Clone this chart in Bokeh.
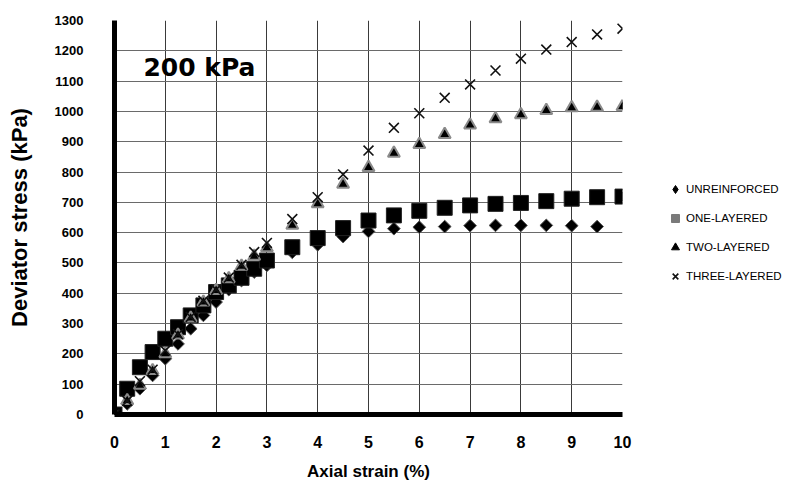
import math

from bokeh.embed import file_html
from bokeh.models import FixedTicker, Label, Legend, LegendItem, Range1d
from bokeh.plotting import figure
from bokeh.resources import INLINE

# Axial strain (%) at which each specimen was read
strain_unreinforced = [0, 0.25, 0.5, 0.75, 1.0, 1.25, 1.5, 1.75, 2.0, 2.25, 2.5, 2.75, 3.0,
                       3.5, 4.0, 4.5, 5.0, 5.5, 6.0, 6.5, 7.0, 7.5, 8.0, 8.5, 9.0, 9.5]
strain_reinforced = [0, 0.25, 0.5, 0.75, 1.0, 1.25, 1.5, 1.75, 2.0, 2.25, 2.5, 2.75, 3.0,
                     3.5, 4.0, 4.5, 5.0, 5.5, 6.0, 6.5, 7.0, 7.5, 8.0, 8.5, 9.0, 9.5, 10.0]

# Deviator stress (kPa), confining pressure 200 kPa
stress_unreinforced = [0, 35, 85, 129, 184, 233, 283, 327, 371, 412, 442, 470, 492,
                       535, 560, 587, 604, 613, 618, 620, 623, 624, 624, 624, 623, 620]
stress_one_layer = [0, 85, 156, 206, 250, 288, 327, 360, 404, 426, 451, 481, 508,
                    552, 582, 615, 640, 657, 672, 682, 690, 695, 698, 704, 712, 717, 719]
stress_two_layer = [0, 46, 96, 145, 200, 262, 318, 371, 409, 448, 489, 522, 550,
                    624, 695, 760, 815, 862, 891, 924, 955, 976, 989, 1003, 1012, 1014, 1016]
stress_three_layer = [0, 45, 110, 148, 211, 265, 322, 375, 412, 452, 494, 536, 566,
                      645, 717, 792, 871, 946, 994, 1045, 1089, 1135, 1174, 1204, 1229, 1254, 1273]

series_names = ["UNREINFORCED", "ONE-LAYERED", "TWO-LAYERED", "THREE-LAYERED"]
x_ticks = [0, 1, 2, 3, 4, 5, 6, 7, 8, 9, 10]
y_ticks = [0, 100, 200, 300, 400, 500, 600, 700, 800, 900, 1000, 1100, 1200, 1300]

p = figure(
    frame_width=508, frame_height=394,
    x_range=Range1d(0, 10), y_range=Range1d(0, 1300),
    output_backend="svg", toolbar_location=None,
    min_border_left=114, min_border_right=166,
    min_border_top=20, min_border_bottom=71,
    background_fill_color="white", border_fill_color="white",
)
p.outline_line_color = None

# grid
p.xgrid.ticker = FixedTicker(ticks=x_ticks)
p.ygrid.ticker = FixedTicker(ticks=y_ticks)
p.xgrid.grid_line_color = "#3a3a3a"
p.ygrid.grid_line_color = "#6a6a6a"
p.xgrid.grid_line_width = 1
p.ygrid.grid_line_width = 1

# axes
for ax in (p.xaxis[0], p.yaxis[0]):
    ax.axis_line_width = 5
    ax.axis_line_color = "black"
    ax.major_tick_line_color = None
    ax.minor_tick_line_color = None
    ax.major_label_text_font = "Liberation Sans"
    ax.major_label_text_font_style = "bold"
    ax.major_label_text_color = "black"
    ax.axis_label_text_font = "Liberation Sans"
    ax.axis_label_text_font_style = "bold"
    ax.axis_label_text_color = "black"

p.xaxis.ticker = FixedTicker(ticks=x_ticks)
p.yaxis.ticker = FixedTicker(ticks=y_ticks)
p.xaxis.major_label_text_font_size = "16px"
p.yaxis.major_label_text_font_size = "13px"
p.xaxis.major_label_standoff = 15
p.yaxis.major_label_standoff = 25
p.xaxis.axis_label = "Axial strain (%)"
p.yaxis.axis_label = "Deviator stress (kPa)"
p.xaxis.axis_label_text_font_size = "17px"
p.yaxis.axis_label_text_font_size = "22px"
p.xaxis.axis_label_standoff = 11
p.yaxis.axis_label_standoff = 20

# legend keys drawn beneath the data markers that cover them
unre_key = p.scatter(strain_unreinforced, stress_unreinforced, marker="diamond", size=8,
                     fill_color="black", line_color="black")
one_key = p.scatter(strain_reinforced, stress_one_layer, marker="square", size=8,
                    fill_color="#7a7a7a", line_color="#7a7a7a")
two_key = p.scatter(strain_reinforced, stress_two_layer, marker="triangle", size=7,
                    fill_color="black", line_color="black")

# data markers, drawn back to front
r_unre = p.scatter(strain_unreinforced, stress_unreinforced, marker="square", size=9,
                   angle=math.pi / 4, fill_color="black", line_color="#555555", line_width=1)
r_one = p.scatter(strain_reinforced, stress_one_layer, marker="square", size=15,
                  fill_color="black", line_color="#222222", line_width=1)
r_two = p.scatter(strain_reinforced, stress_two_layer, marker="triangle", size=12,
                  fill_color="black", line_color="#8a8a8a", line_width=2)
r_three = p.scatter(strain_reinforced, stress_three_layer, marker="x", size=14,
                    line_color="#111111", line_width=1.6)

legend = Legend(
    items=[
        LegendItem(label=series_names[0], renderers=[unre_key]),
        LegendItem(label=series_names[1], renderers=[one_key]),
        LegendItem(label=series_names[2], renderers=[two_key]),
        LegendItem(label=series_names[3], renderers=[r_three]),
    ],
    location=(43, 128),
    orientation="vertical",
    glyph_width=20, glyph_height=20,
    label_height=20, label_standoff=1, spacing=9,
    padding=0, margin=0,
    border_line_color=None, background_fill_alpha=0,
    label_text_font="Liberation Sans", label_text_font_size="11.5px",
    label_text_color="black",
)
p.add_layout(legend, "right")

p.add_layout(Label(
    x=0.57, y=1145, text="200 kPa",
    text_font="DejaVu Sans", text_font_style="bold", text_font_size="25px",
    text_baseline="middle", text_align="left", text_color="black",
))

open("out.html", "w").write(file_html(p, INLINE))
